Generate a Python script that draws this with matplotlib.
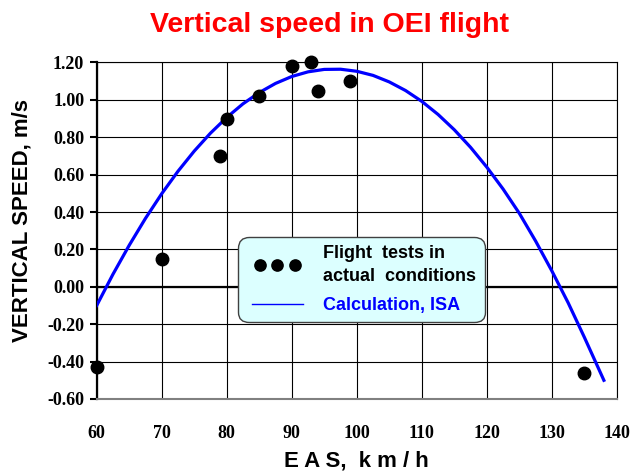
import matplotlib
matplotlib.use('Agg')
import matplotlib.pyplot as plt
from matplotlib.legend_handler import HandlerLine2D

# flight test points (EAS km/h, vertical speed m/s)
test_eas = [60, 70, 79, 80, 85, 90, 93, 94, 99, 135]
test_vs = [-0.43, 0.15, 0.70, 0.90, 1.02, 1.18, 1.20, 1.05, 1.10, -0.46]

# calculated curve, ISA
calc_eas = [60, 62.5, 65, 67.5, 70, 72.5, 75, 77.5, 80, 82.5, 85, 87.5, 90, 92.5,
            95, 97.5, 100, 102.5, 105, 107.5, 110, 112.5, 115, 117.5, 120, 122.5,
            125, 127.5, 130, 132.5, 135, 138]
calc_vs = [-0.100, 0.067, 0.222, 0.366, 0.498, 0.618, 0.726, 0.822, 0.906, 0.979,
           1.039, 1.088, 1.125, 1.150, 1.163, 1.164, 1.153, 1.131, 1.096, 1.050,
           0.992, 0.922, 0.840, 0.746, 0.640, 0.523, 0.393, 0.245, 0.085, -0.085,
           -0.270, -0.500]

x_ticks = [60, 70, 80, 90, 100, 110, 120, 130, 140]
y_ticks = [-0.60, -0.40, -0.20, 0.00, 0.20, 0.40, 0.60, 0.80, 1.00, 1.20]


def main():
    fig = plt.figure(figsize=(6.34, 4.72), dpi=100)
    ax = fig.add_axes([0.1525, 0.1547, 0.8205, 0.7129])

    ax.set_xlim(60, 140)
    ax.set_ylim(-0.60, 1.20)
    ax.set_xticks(x_ticks)
    ax.set_yticks(y_ticks)
    ax.set_yticklabels(['%.2f' % v for v in y_ticks])
    ax.grid(True, color='black', lw=0.8)
    ax.set_axisbelow(True)
    ax.axhline(0, color='black', lw=1.6, zorder=1)

    for s in ['top', 'right']:
        ax.spines[s].set_color('black')
        ax.spines[s].set_linewidth(0.8)
    ax.spines['bottom'].set_color('#808080')
    ax.spines['bottom'].set_linewidth(1.5)
    ax.spines['left'].set_color('black')
    ax.spines['left'].set_linewidth(1.6)

    ax.tick_params(axis='y', direction='out', length=5, width=1.5, pad=4)
    ax.tick_params(axis='x', length=0, pad=19)
    for lbl in ax.get_xticklabels() + ax.get_yticklabels():
        lbl.set_fontfamily('Liberation Serif')
        lbl.set_fontweight('bold')
        lbl.set_fontsize(13)

    calc_line, = ax.plot(calc_eas, calc_vs, color='#0000ff', lw=2.3, zorder=3)
    test_pts, = ax.plot(test_eas, test_vs, 'o', color='black', ms=9, zorder=4,
                        clip_on=False)

    leg = ax.legend([test_pts, calc_line],
                    ['Flight  tests in\nactual  conditions', 'Calculation, ISA'],
                    handler_map={test_pts: HandlerLine2D(marker_pad=0.75)},
                    loc='upper left', bbox_to_anchor=(238 / 634, 1 - 237 / 472),
                    bbox_transform=fig.transFigure, numpoints=3, markerscale=0.9,
                    handlelength=3.43, handletextpad=0.85, borderpad=0.45,
                    borderaxespad=0, labelspacing=0.68, fancybox=True, framealpha=1,
                    facecolor='#dcffff', edgecolor='#404040',
                    labelcolor=['black', '#0000ff'],
                    prop=dict(family='Liberation Sans', weight='bold', size=13))
    leg.get_frame().set_linewidth(1.0)
    leg.get_frame().set_boxstyle('round', pad=0, rounding_size=0.6)
    leg.get_lines()[1].set_linewidth(1.0)
    for t in leg.get_texts():
        t.set_linespacing(1.45)

    fig.text(22 / 634, 1 - 221 / 472, 'VERTICAL SPEED, m/s', rotation=90,
             ha='center', va='center', family='Liberation Sans', weight='bold', size=16)
    fig.text(356 / 634, 1 - 461 / 472, 'E A S,  k m / h', ha='center', va='center',
             family='Liberation Sans', weight='bold', size=16)
    fig.text(329 / 634, 1 - 32 / 472, 'Vertical speed in OEI flight', ha='center',
             va='baseline', color='#ff0000', family='Liberation Sans', weight='bold',
             size=20.5)

    fig.savefig('out.png', dpi=100)


if __name__ == '__main__':
    main()
